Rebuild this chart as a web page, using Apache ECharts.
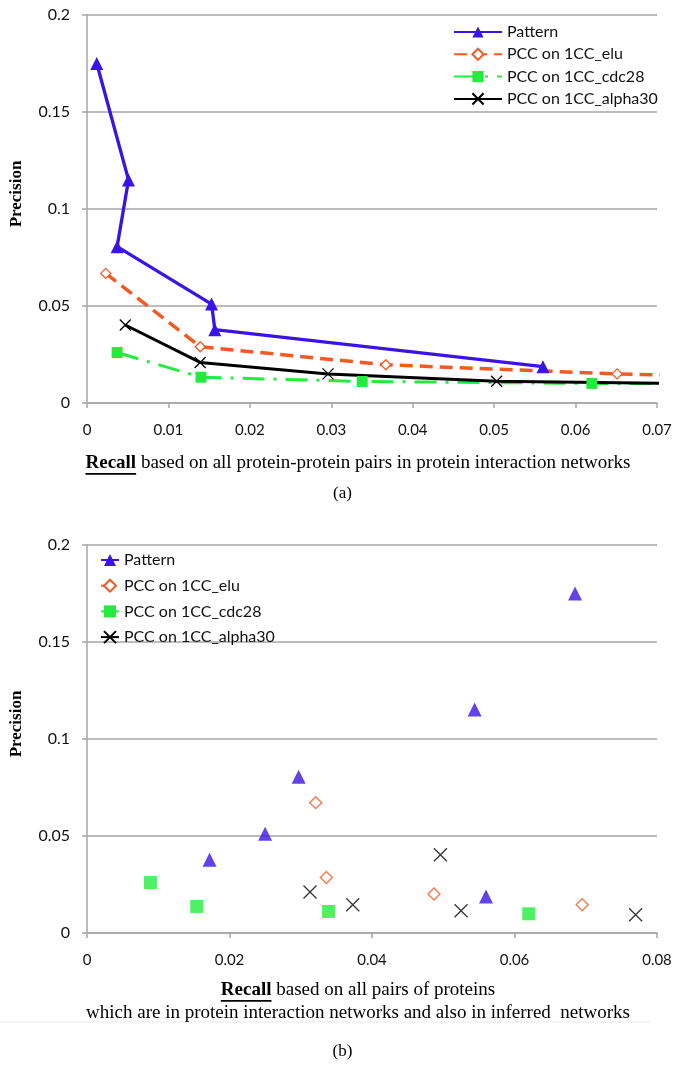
<!DOCTYPE html>
<html>
<head>
<meta charset="utf-8">
<script src="https://cdn.jsdelivr.net/npm/echarts@6/dist/echarts.min.js"></script>
<style>
  html, body { margin: 0; padding: 0; background: #fff; }
  #main { width: 685px; height: 1066px; }
</style>
</head>
<body>
<div id="main"></div>
<script>
// (a) recall over all protein-protein pairs
const patternA_recall = [0.0012, 0.0051, 0.0037, 0.0153, 0.0157, 0.056]
const patternA_prec = [0.175, 0.115, 0.0806, 0.051, 0.0378, 0.0187]
const eluA_recall = [0.0023, 0.0139, 0.0367, 0.0651, 0.075]
const eluA_prec = [0.0668, 0.029, 0.0197, 0.015, 0.0141]
const cdcA_recall = [0.0037, 0.014, 0.0338, 0.062, 0.075]
const cdcA_prec = [0.026, 0.0133, 0.0111, 0.0101, 0.0099]
const alphaA_recall = [0.0047, 0.0139, 0.0296, 0.0503, 0.075]
const alphaA_prec = [0.0402, 0.0209, 0.015, 0.0112, 0.0099]

// (b) recall over pairs also in inferred networks
const patternB_recall = [0.0685, 0.0544, 0.0297, 0.025, 0.0172, 0.056]
const patternB_prec = [0.175, 0.1152, 0.0806, 0.0511, 0.0377, 0.0188]
const eluB_recall = [0.0321, 0.0336, 0.0487, 0.0695]
const eluB_prec = [0.0672, 0.0286, 0.0201, 0.0146]
const cdcB_recall = [0.0089, 0.0154, 0.0339, 0.062]
const cdcB_prec = [0.026, 0.0137, 0.0111, 0.0099]
const alphaB_recall = [0.0496, 0.0313, 0.0373, 0.0525, 0.077]
const alphaB_prec = [0.0403, 0.0211, 0.0146, 0.0115, 0.0094]

const seriesNames = ['Pattern', 'PCC on 1CC_elu', 'PCC on 1CC_cdc28', 'PCC on 1CC_alpha30']
const yTicks = [0, 0.05, 0.1, 0.15, 0.2]

const zip = (xs, ys) => xs.map((x, i) => [x, ys[i]])

const BLUE = '#3a14e4'
const ORANGE = '#f15a22'
const GREEN = '#24ec3e'
const BLACK = '#000'
const GRIDC = '#a6a6a6'
const SANS = 'Lato'
const SERIF = 'Liberation Serif'
const CROSS = 'path://M0,0L10,10M10,0L0,10'
const FS = 19

const myChart = echarts.init(document.getElementById('main'))

// measure text to place the axis titles and the underline under "Recall"
const ctx = document.createElement('canvas').getContext('2d')
const textW = (s, font) => { ctx.font = font; return ctx.measureText(s).width }
const nameA = ' based on all protein-protein pairs in protein interaction networks'
const nameB = ' based on all pairs of proteins'
const nameB2 = 'which are in protein interaction networks and also in inferred  networks'
const wR = textW('Recall', 'bold ' + FS + 'px "' + SERIF + '"')
const startA = 358 - (wR + textW(nameA, FS + 'px "' + SERIF + '"')) / 2
const startB = 358 - (wR + textW(nameB, FS + 'px "' + SERIF + '"')) / 2
const startB2 = 358 - textW(nameB2, FS + 'px "' + SERIF + '"') / 2

const valueY = (gi) => ({
  type: 'value', gridIndex: gi, min: 0, max: 0.2, interval: 0.05,
  name: 'Precision', nameLocation: 'middle', nameRotate: 90, nameGap: 62,
  nameTextStyle: { fontFamily: SERIF, fontWeight: 'bold', fontSize: 17, color: '#000', padding: [0, 0, 0, 30] },
  axisLine: { show: true, lineStyle: { color: GRIDC, width: 1.5 } },
  axisTick: { show: true, length: 5, lineStyle: { color: GRIDC, width: 1.5 } },
  axisLabel: { margin: 17, fontFamily: SANS, fontSize: 16, color: '#111',
    formatter: v => yTicks.includes(+v.toFixed(2)) ? String(+v.toFixed(2)) : '' },
  splitLine: { lineStyle: { color: GRIDC, width: 1.5 } }
})
const valueX = (gi, max, interval) => ({
  type: 'value', gridIndex: gi, min: 0, max: max, interval: interval,
  axisLine: { show: true, onZero: false, lineStyle: { color: GRIDC, width: 1.5 } },
  axisTick: { show: true, length: 5, lineStyle: { color: GRIDC, width: 1.5 } },
  axisLabel: { margin: 20, fontFamily: SANS, fontSize: 15, color: '#111' },
  splitLine: { show: false }
})

const lineSeries = (name, data, color, lineType, symbol, size, extra) => Object.assign({
  name: name, type: 'line', xAxisIndex: 0, yAxisIndex: 0, data: data,
  symbol: symbol, symbolSize: size, showSymbol: true, clip: true,
  lineStyle: { color: color, width: 3, type: lineType },
  itemStyle: { color: color },
  z: 3
}, extra || {})

const scatterSeries = (name, data, symbol, size, itemStyle) => ({
  name: name, type: 'scatter', xAxisIndex: 1, yAxisIndex: 1, data: data,
  symbol: symbol, symbolSize: size, itemStyle: itemStyle
})

const serifStyle = (bold) => ({ fontFamily: SERIF, fontSize: FS, fontWeight: bold ? 'bold' : 'normal', color: '#000', lineHeight: 22 })

myChart.setOption({
  animation: false,
  backgroundColor: '#fff',
  title: [
    { text: '{b|Recall}' + nameA, left: startA, top: 452, padding: 0,
      textStyle: Object.assign(serifStyle(false), { rich: { b: serifStyle(true) } }) },
    { text: '(a)', left: 'center', top: 485, padding: 0,
      textStyle: { fontFamily: SERIF, fontSize: 17, fontWeight: 'normal', color: '#000' } },
    { text: '{b|Recall}' + nameB, left: startB, top: 979, padding: 0,
      textStyle: Object.assign(serifStyle(false), { rich: { b: serifStyle(true) } }) },
    { text: nameB2, left: startB2, top: 1002, padding: 0, textStyle: serifStyle(false) },
    { text: '(b)', left: 'center', top: 1043, padding: 0,
      textStyle: { fontFamily: SERIF, fontSize: 17, fontWeight: 'normal', color: '#000' } }
  ],
  graphic: [
    { type: 'rect', shape: { x: startA, y: 473, width: wR, height: 1.7 }, style: { fill: '#000' } },
    { type: 'rect', shape: { x: startB, y: 1000, width: wR, height: 1.7 }, style: { fill: '#000' } },
    { type: 'line', shape: { x1: 0, y1: 1022, x2: 650, y2: 1022 }, style: { stroke: '#ececec', lineWidth: 1 } }
  ],
  legend: [
    { data: seriesNames, orient: 'vertical', left: 448, top: 19, itemWidth: 48, itemHeight: 14, itemGap: 6.3,
      textStyle: { fontFamily: SANS, fontSize: 16, color: '#111', lineHeight: 16 } },
    { orient: 'vertical', left: 95, top: 547, itemWidth: 18, itemHeight: 15, itemGap: 9.7,
      data: seriesNames.map((n) => ({ name: n })),
      textStyle: { fontFamily: SANS, fontSize: 16, color: '#111', lineHeight: 15 } }
  ],
  grid: [
    { left: 85, top: 15, width: 572, height: 388 },
    { left: 85, top: 545, width: 572, height: 388 }
  ],
  xAxis: [valueX(0, 0.07, 0.01), valueX(1, 0.08, 0.02)],
  yAxis: [valueY(0), valueY(1)],
  series: [
    lineSeries(seriesNames[0], zip(patternA_recall, patternA_prec), BLUE, 'solid', 'triangle', 13,
      { lineStyle: { color: BLUE, width: 3.3, type: 'solid' } }),
    lineSeries(seriesNames[1], zip(eluA_recall, eluA_prec), ORANGE, [13, 7], 'diamond', 10,
      { itemStyle: { color: '#fff', borderColor: ORANGE, borderWidth: 1.3 }, lineStyle: { color: ORANGE, width: 3.5, type: [13, 7] } }),
    lineSeries(seriesNames[2], zip(cdcA_recall, cdcA_prec), GREEN, [22, 9, 3, 9], 'rect', 11),
    lineSeries(seriesNames[3], zip(alphaA_recall, alphaA_prec), BLACK, 'solid', CROSS, 11,
      { itemStyle: { color: BLACK, borderColor: BLACK, borderWidth: 1.3 } }),
    scatterSeries(seriesNames[0], zip(patternB_recall, patternB_prec), 'triangle', 14, { color: BLUE }),
    scatterSeries(seriesNames[1], zip(eluB_recall, eluB_prec), 'diamond', 12,
      { color: '#fff', borderColor: ORANGE, borderWidth: 1.4 }),
    scatterSeries(seriesNames[2], zip(cdcB_recall, cdcB_prec), 'rect', 13, { color: GREEN }),
    scatterSeries(seriesNames[3], zip(alphaB_recall, alphaB_prec), CROSS, 13,
      { color: BLACK, borderColor: BLACK, borderWidth: 1.3 })
  ]
})
</script>
</body>
</html>
